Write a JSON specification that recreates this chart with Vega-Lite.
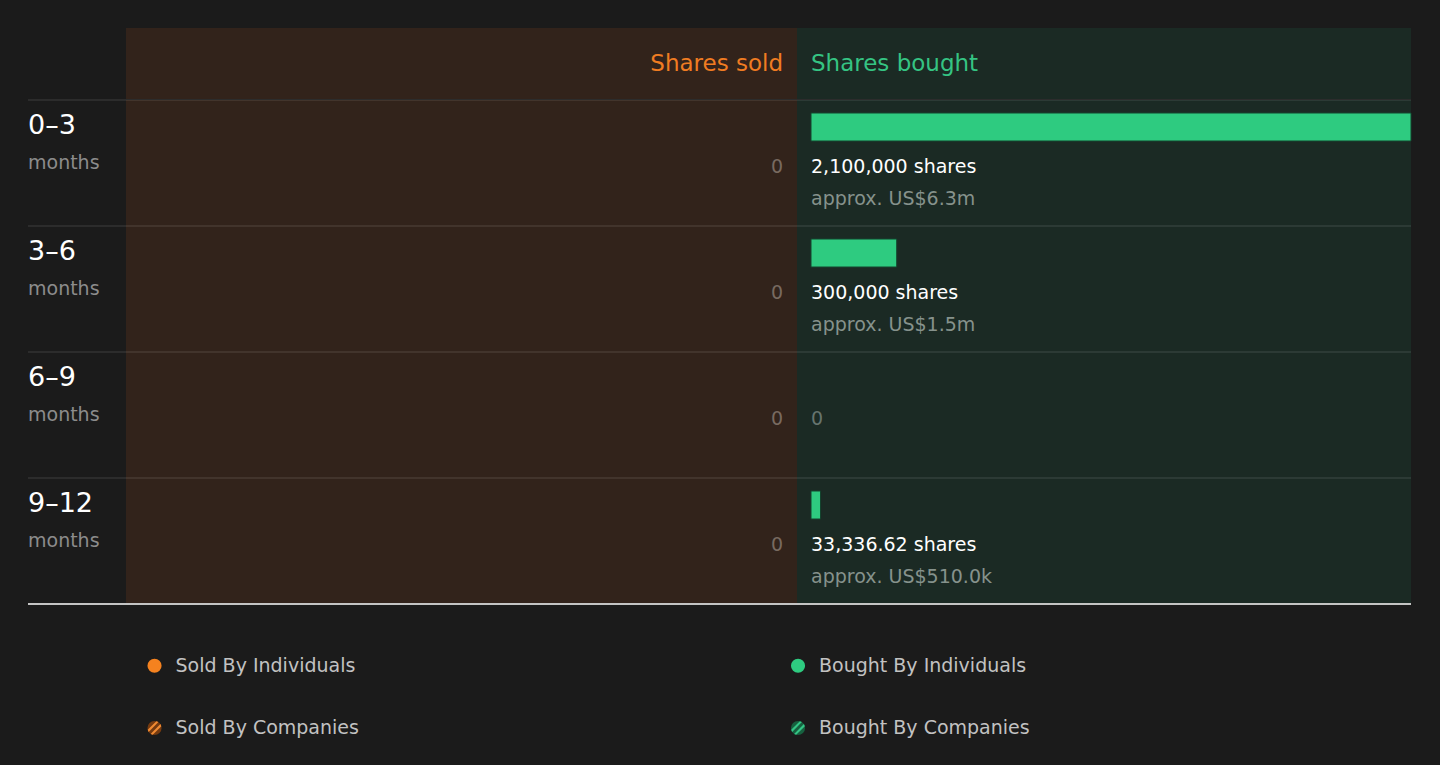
{
  "$schema": "https://vega.github.io/schema/vega-lite/v6.json",
  "background": "#1b1b1b",
  "padding": {"left": 27, "top": 28, "right": 30, "bottom": 0},
  "config": {"font": "DejaVu Sans", "view": {"stroke": null}},
  "datasets": {
    "periods": [
      {"period": "0–3", "sold": 0, "soldText": "0", "bought": 2100000, "boughtText": "2,100,000 shares", "boughtApprox": "approx. US$6.3m"},
      {"period": "3–6", "sold": 0, "soldText": "0", "bought": 300000, "boughtText": "300,000 shares", "boughtApprox": "approx. US$1.5m"},
      {"period": "6–9", "sold": 0, "soldText": "0", "bought": 0, "boughtText": "0", "boughtApprox": ""},
      {"period": "9–12", "sold": 0, "soldText": "0", "bought": 33336.62, "boughtText": "33,336.62 shares", "boughtApprox": "approx. US$510.0k"}
    ],
    "legend": [
      {"side": "Sold", "by": "Individuals", "label": "Sold By Individuals"},
      {"side": "Sold", "by": "Companies", "label": "Sold By Companies"},
      {"side": "Bought", "by": "Individuals", "label": "Bought By Individuals"},
      {"side": "Bought", "by": "Companies", "label": "Bought By Companies"}
    ]
  },
  "spacing": 0,
  "resolve": {"scale": {"x": "independent", "y": "independent", "color": "independent", "fill": "independent"}},
  "vconcat": [
    {
      "spacing": 0,
      "bounds": "flush",
      "resolve": {"scale": {"x": "independent", "y": "independent"}},
      "hconcat": [
        {
          "width": 98,
          "height": 71,
          "data": {"values": [{}]},
          "mark": {"type": "text"},
          "encoding": {"text": {"value": ""}}
        },
        {
          "width": 671,
          "height": 71,
          "view": {"fill": "#32231b", "stroke": null},
          "data": {"values": [{}]},
          "mark": {"type": "text", "align": "right", "baseline": "middle", "fontSize": 23, "color": "#f07c22"},
          "encoding": {
            "x": {"datum": 0, "type": "quantitative", "scale": {"domain": [-49000, 2300000], "reverse": true, "nice": false, "zero": false}, "axis": null},
            "text": {"value": "Shares sold"}
          }
        },
        {
          "width": 614,
          "height": 71,
          "view": {"fill": "#1b2a24", "stroke": null},
          "data": {"values": [{}]},
          "mark": {"type": "text", "align": "left", "baseline": "middle", "fontSize": 23, "color": "#35c483"},
          "encoding": {
            "x": {"datum": 0, "type": "quantitative", "scale": {"domain": [-49000, 2100000], "nice": false, "zero": false}, "axis": null},
            "text": {"value": "Shares bought"}
          }
        }
      ]
    },
    {
      "spacing": 0,
      "bounds": "flush",
      "resolve": {"scale": {"x": "independent", "y": "independent"}},
      "hconcat": [
        {
          "width": 98,
          "height": 504,
          "data": {"name": "periods"},
          "layer": [
            {
              "mark": {"type": "rule", "color": "#ffffff", "opacity": 0.16, "strokeWidth": 1},
              "encoding": {
                "y": {"field": "period", "type": "ordinal", "bandPosition": 0, "scale": {"type": "band", "domain": ["0–3", "3–6", "6–9", "9–12"], "paddingInner": 0, "paddingOuter": 0}, "axis": null}
              }
            },
            {
              "mark": {"type": "rule", "color": "#c4c4c4", "strokeWidth": 1.5},
              "encoding": {"y": {"datum": "9–12", "type": "ordinal", "bandPosition": 1}}
            },
            {
              "mark": {"type": "text", "align": "left", "baseline": "alphabetic", "fontSize": 27, "color": "#ffffff", "dy": -29},
              "encoding": {
                "x": {"value": 0},
                "y": {"field": "period", "type": "ordinal"},
                "text": {"field": "period"}
              }
            },
            {
              "mark": {"type": "text", "align": "left", "baseline": "alphabetic", "fontSize": 19, "color": "#8c8c8c", "dy": 6},
              "encoding": {
                "x": {"value": 0},
                "y": {"field": "period", "type": "ordinal"},
                "text": {"value": "months"}
              }
            }
          ]
        },
        {
          "width": 671,
          "height": 504,
          "view": {"fill": "#32231b", "stroke": null},
          "data": {"name": "periods"},
          "layer": [
            {
              "mark": {"type": "rule", "color": "#ffffff", "opacity": 0.16, "strokeWidth": 1},
              "encoding": {
                "y": {"field": "period", "type": "ordinal", "bandPosition": 0, "scale": {"type": "band", "domain": ["0–3", "3–6", "6–9", "9–12"], "paddingInner": 0, "paddingOuter": 0}, "axis": null}
              }
            },
            {
              "mark": {"type": "rule", "color": "#c4c4c4", "strokeWidth": 1.5},
              "encoding": {"y": {"datum": "9–12", "type": "ordinal", "bandPosition": 1}}
            },
            {
              "mark": {"type": "text", "align": "right", "baseline": "alphabetic", "fontSize": 19, "color": "#786a60", "dy": 10},
              "encoding": {
                "x": {"field": "sold", "type": "quantitative", "scale": {"domain": [-49000, 2300000], "reverse": true, "nice": false, "zero": false}, "axis": null},
                "y": {"field": "period", "type": "ordinal"},
                "text": {"field": "soldText"}
              }
            }
          ]
        },
        {
          "width": 614,
          "height": 504,
          "view": {"fill": "#1b2a24", "stroke": null},
          "data": {"name": "periods"},
          "layer": [
            {
              "mark": {"type": "rule", "color": "#ffffff", "opacity": 0.16, "strokeWidth": 1},
              "encoding": {
                "y": {"field": "period", "type": "ordinal", "bandPosition": 0, "scale": {"type": "band", "domain": ["0–3", "3–6", "6–9", "9–12"], "paddingInner": 0, "paddingOuter": 0}, "axis": null}
              }
            },
            {
              "mark": {"type": "rule", "color": "#c4c4c4", "strokeWidth": 1.5},
              "encoding": {"y": {"datum": "9–12", "type": "ordinal", "bandPosition": 1}}
            },
            {
              "transform": [{"filter": "datum.bought > 0"}],
              "mark": {"type": "bar", "color": "#2ecb80", "stroke": "#14442e", "strokeWidth": 1, "height": 28, "yOffset": -36},
              "encoding": {
                "x": {"field": "bought", "type": "quantitative", "scale": {"domain": [-49000, 2100000], "nice": false, "zero": false}, "axis": null},
                "x2": {"datum": 0},
                "y": {"field": "period", "type": "ordinal"}
              }
            },
            {
              "mark": {"type": "text", "align": "left", "baseline": "alphabetic", "fontSize": 19, "dy": 10},
              "encoding": {
                "x": {"datum": 0, "type": "quantitative"},
                "y": {"field": "period", "type": "ordinal"},
                "text": {"field": "boughtText"},
                "color": {"condition": {"test": "datum.bought > 0", "value": "#ffffff"}, "value": "#66746e"}
              }
            },
            {
              "mark": {"type": "text", "align": "left", "baseline": "alphabetic", "fontSize": 19, "color": "#86928c", "dy": 42},
              "encoding": {
                "x": {"datum": 0, "type": "quantitative"},
                "y": {"field": "period", "type": "ordinal"},
                "text": {"field": "boughtApprox"}
              }
            }
          ]
        }
      ]
    },
    {
      "width": 1383,
      "height": 162,
      "data": {"name": "legend"},
      "encoding": {
        "x": {"field": "side", "type": "nominal", "scale": {"type": "point", "domain": ["Sold", "Bought"], "padding": 0.5746, "align": 0.1711}, "axis": null},
        "y": {"field": "by", "type": "nominal", "scale": {"type": "point", "domain": ["Individuals", "Companies"], "padding": 0.802, "align": 0.609}, "axis": null}
      },
      "layer": [
        {
          "mark": {"type": "point", "shape": "circle", "filled": true, "size": 200, "opacity": 1},
          "encoding": {
            "fill": {"field": "label", "type": "nominal", "legend": null, "scale": {"domain": ["Sold By Individuals", "Sold By Companies", "Bought By Individuals", "Bought By Companies"], "range": ["#f5821f", "#743a10", "#2ecb80", "#17603f"]}}
          }
        },
        {
          "transform": [{"filter": "datum.by == 'Companies'"}],
          "mark": {"type": "point", "filled": true, "size": 200, "opacity": 1, "shape": "M0.259,-0.966L0.552,-0.834L-0.834,0.552L-0.966,0.259Z M-0.259,0.966L-0.552,0.834L0.834,-0.552L0.966,-0.259Z"},
          "encoding": {
            "color": {"field": "side", "type": "nominal", "legend": null, "scale": {"domain": ["Sold", "Bought"], "range": ["#f08a32", "#34c485"]}}
          }
        },
        {
          "mark": {"type": "text", "align": "left", "baseline": "middle", "fontSize": 19, "color": "#c2c2c2", "dx": 21},
          "encoding": {"text": {"field": "label"}}
        }
      ]
    }
  ]
}
